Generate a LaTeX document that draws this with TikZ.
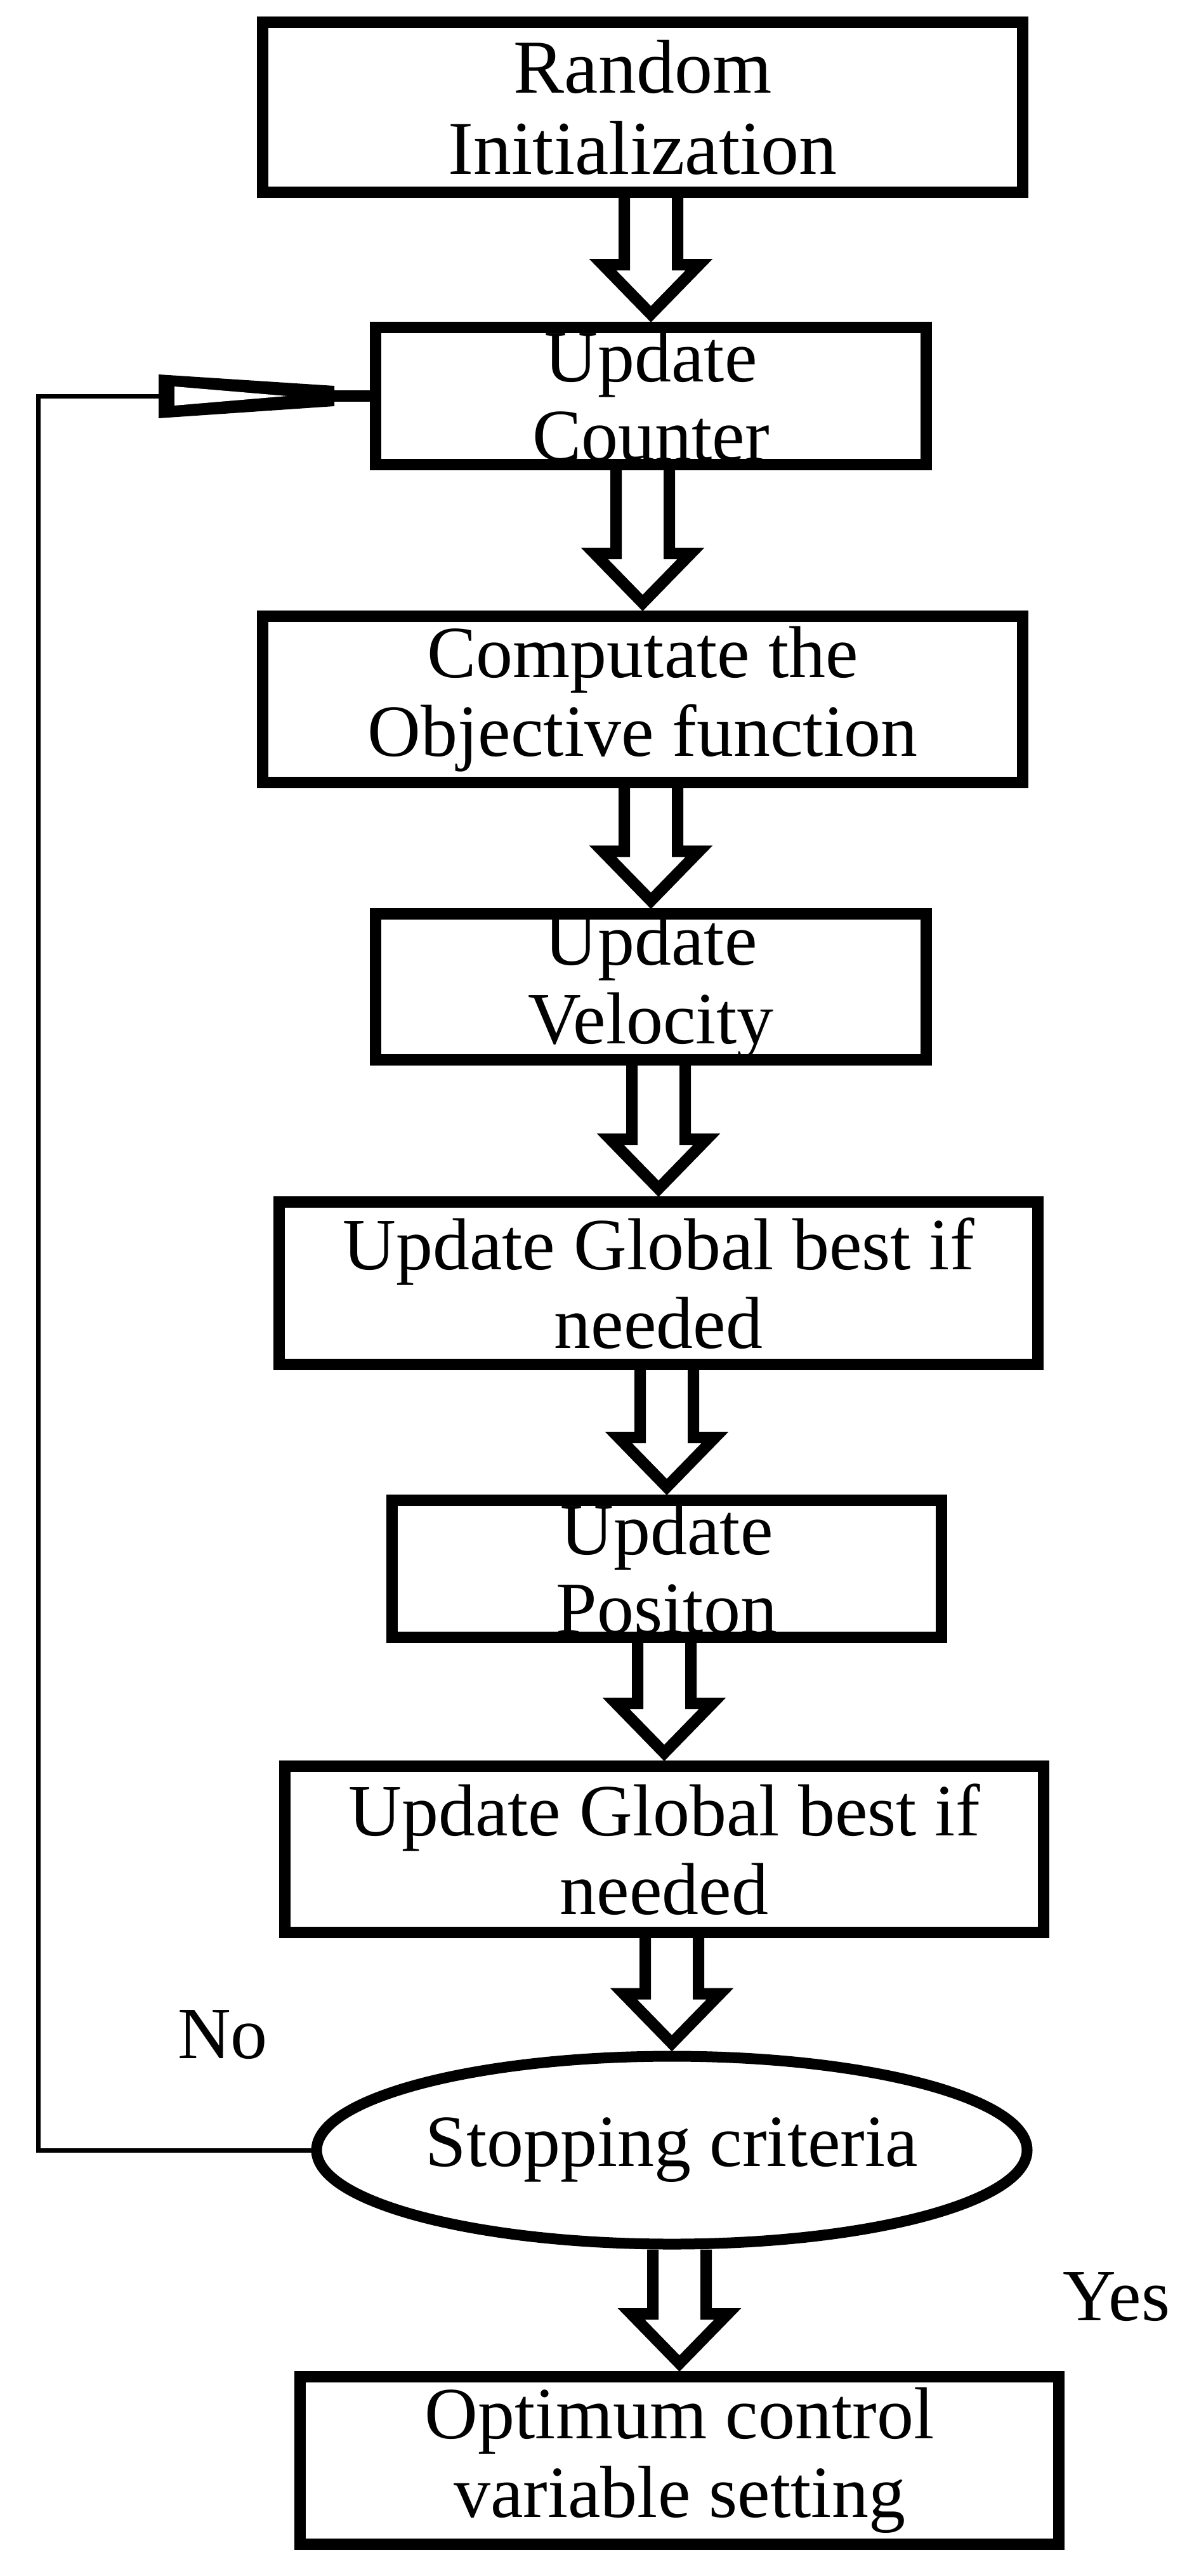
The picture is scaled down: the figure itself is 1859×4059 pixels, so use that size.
\documentclass[tikz,border=0pt]{standalone}
\usepackage{fontspec}
\setmainfont{Liberation Serif}
\usetikzlibrary{calc,shapes.geometric}
\tikzset{
  box/.style={draw, line width=9pt, align=center, inner sep=0pt,
    font=\fontsize{58}{62}\selectfont},
  lbl/.style={font=\fontsize{58}{62}\selectfont, inner sep=0pt},
}
\newcommand\blockarrow[2]{%
  \path let \p1=(#1.south), \p2=(#2.north) in
   [draw, line width=9pt, line join=miter, miter limit=3]
   ({\x2-21pt},{\y1}) -- ({\x2-21pt},{\y2+45pt}) -- ({\x2-38pt},{\y2+45pt})
   -- ({\x2},{\y2+6pt}) -- ({\x2+38pt},{\y2+45pt}) -- ({\x2+21pt},{\y2+45pt})
   -- ({\x2+21pt},{\y1});}
\begin{document}
\begin{tikzpicture}[x=0.5pt,y=-0.5pt]
\useasboundingbox (0,0) rectangle (1859,4059);
\node[box, minimum width=599pt, minimum height=134pt, font=\fontsize{60}{64}\selectfont] (r) at (1013,169) {Random\\Initialization};
\node[box, minimum width=434pt, minimum height=108pt] (c) at (1026,624) {Update\\Counter};
\node[box, minimum width=599pt, minimum height=131pt] (o) at (1013,1102) {Computate the\\Objective function};
\node[box, minimum width=434pt, minimum height=106pt] (v) at (1026,1555) {Update\\Velocity};
\node[box, minimum width=598pt, minimum height=128pt] (g1) at (1038,2022) {Update Global best if\\needed};
\node[box, minimum width=433pt, minimum height=108pt] (p) at (1051,2472) {Update\\Positon};
\node[box, minimum width=598pt, minimum height=131pt] (g2) at (1047,2914) {Update Global best if\\needed};
\node[box, draw, ellipse, line width=8.5pt, minimum width=560pt, minimum height=148pt] (s) at (1059,3388) {Stopping criteria};
\node[box, minimum width=598pt, minimum height=132pt] (f) at (1071,3877) {Optimum control\\variable setting};
\node[lbl] (no) at (351,3206) {No};
\node[lbl] (yes) at (1760,3619) {Yes};
\blockarrow{r}{c}
\blockarrow{c}{o}
\blockarrow{o}{v}
\blockarrow{v}{g1}
\blockarrow{g1}{p}
\blockarrow{p}{g2}
\blockarrow{g2}{s}
\blockarrow{s}{f}
% loop back
\coordinate (tl) at (60,624);
\coordinate (wl) at (250,624);
\coordinate (wr) at (527,624);
\draw[line width=3.5pt] (s.west) -- (s.west -| tl) -- (tl) -- (wl);
\fill (250,590) -- (527,608) -- (527,640) -- (250,659) -- cycle;
\fill[white] (275,609) -- (452,624) -- (275,639) -- cycle;
\draw[line width=9pt] (wr) -- (c.west);
\end{tikzpicture}
\end{document}
